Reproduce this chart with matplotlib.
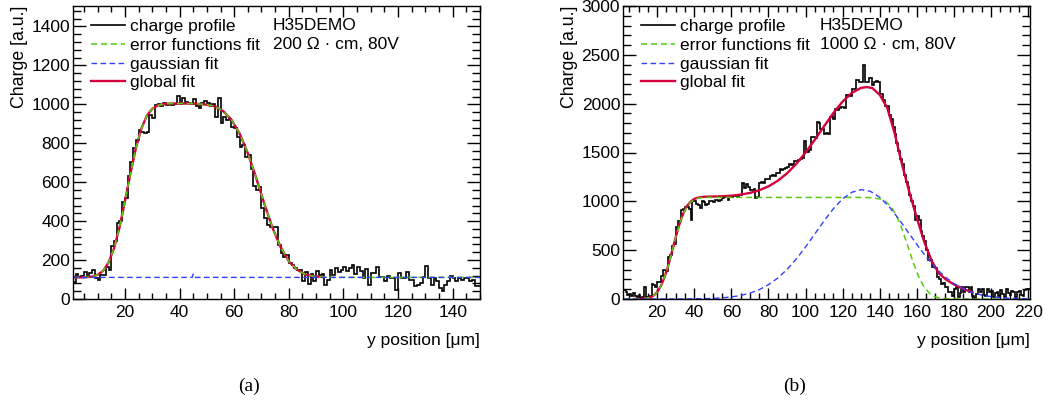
import numpy as np
import matplotlib
matplotlib.use('Agg')
import matplotlib.pyplot as plt
from matplotlib.ticker import MultipleLocator

plt.rcParams['font.family'] = ['Liberation Sans', 'DejaVu Sans']

# ---------------- panel (a): 200 Ohm cm ----------------
bin_start_a = 1   # 1 um bins
counts_a = [
    85, 130, 112, 118, 140, 115, 135, 150, 110, 100,
    125, 125, 165, 150, 270, 300, 390, 400, 500, 520,
    630, 706, 774, 816, 870, 860, 855, 860, 945, 930,
    995, 1000, 990, 1005, 995, 1000, 995, 1000, 1044, 1000,
    1034, 1010, 1005, 1000, 1027, 990, 980, 1005, 1015, 1005,
    990, 1000, 935, 1030, 902, 935, 920, 925, 885, 880,
    830, 782, 790, 730, 740, 670, 580, 560, 577, 467,
    415, 380, 370, 372, 372, 278, 236, 218, 227, 185,
    176, 159, 150, 150, 95, 140, 75, 130, 90, 145,
    125, 130, 70, 100, 150, 125, 160, 140, 150, 165,
    145, 160, 175, 130, 165, 145, 110, 154, 73, 133,
    133, 164, 113, 113, 90, 119, 107, 107, 48, 133,
    107, 107, 138, 99, 99, 65, 73, 80, 113, 167,
    107, 70, 110, 90, 56, 40, 73, 90, 116, 107,
    90, 107, 96, 107, 107, 90, 100, 65, 65,
]

erf_fit_a_x = [1, 5, 8, 10, 12, 14, 16, 18, 20, 22, 24, 26, 28, 30, 32, 35, 38,
               42, 46, 50, 53, 56, 59, 62, 65, 68, 71, 74, 77, 80, 83, 86, 89,
               92, 95, 100, 110, 120, 130, 140, 150]
erf_fit_a_y = [111, 111, 115, 124, 144, 187, 259, 366, 501, 643, 773, 874, 941,
               977, 994, 1003, 1004, 1004, 1003, 998, 990, 965, 921, 850, 749,
               625, 491, 367, 267, 194, 151, 126, 117, 113, 111, 111, 111, 111,
               111, 111, 111]

gaus_fit_a_x = [1, 44.6, 45.0, 45.6, 150]
gaus_fit_a_y = [111, 111, 128, 111, 111]

glob_fit_a_x = [1, 5, 8, 10, 12, 14, 16, 18, 20, 22, 24, 26, 28, 30, 32, 35, 38,
                42, 46, 50, 53, 56, 59, 62, 65, 68, 71, 74, 77, 80, 83, 86, 89, 92]
glob_fit_a_y = [111, 111, 115, 124, 144, 187, 259, 366, 501, 643, 773, 874, 941,
                977, 994, 1003, 1004, 1004, 1003, 998, 990, 965, 921, 850, 749,
                625, 491, 367, 267, 194, 151, 126, 117, 113]

# ---------------- panel (b): 1000 Ohm cm ----------------
bin_start_b = 2
counts_b = [
    90, 70, 40, 50, 35, 60, 35, 20, 40, 15,
    25, 125, 20, 15, 30, 150, 140, 120, 175, 175,
    240, 293, 300, 290, 431, 450, 540, 560, 742, 794,
    800, 915, 920, 942, 945, 920, 811, 1000, 1005, 976,
    960, 932, 1000, 990, 966, 970, 1000, 1005, 990, 1018,
    1010, 1005, 1018, 1030, 1052, 1040, 1010, 1052, 1045, 1050,
    1055, 1048, 1060, 1060, 1183, 1138, 1173, 1150, 1121, 1121,
    1130, 1035, 1040, 1190, 1200, 1190, 1225, 1230, 1225, 1259,
    1265, 1260, 1294, 1290, 1328, 1320, 1335, 1345, 1350, 1380,
    1375, 1385, 1415, 1410, 1420, 1432, 1440, 1621, 1518, 1510,
    1525, 1656, 1660, 1650, 1811, 1800, 1742, 1740, 1690, 1700,
    1690, 1863, 1870, 1845, 1949, 1940, 1960, 1966, 1970, 1960,
    2086, 2090, 2080, 2155, 2150, 2242, 2240, 2224, 2224, 2397,
    2224, 2224, 2259, 2260, 2190, 2224, 2230, 2224, 2104, 2104,
    2035, 1977, 1977, 1880, 1845, 1760, 1690, 1600, 1520, 1430,
    1380, 1270, 1200, 1150, 1060, 1000, 949, 811, 850, 811,
    700, 640, 590, 500, 396, 396, 327, 330, 320, 224,
    200, 155, 160, 121, 121, 69, 70, 35, 104, 121,
    17, 60, 121, 69, 121, 121, 69, 121, 35, 10,
    55, 104, 69, 104, 40, 35, 100, 70, 85, 20,
    60, 70, 35, 90, 50, 20, 100, 60, 40, 80,
    75, 25, 70, 85, 40, 30, 90, 100, 100,
]

erf_fit_b_x = [2, 10, 12, 14, 16, 18, 20, 22, 24, 26, 28, 30, 32, 34, 36, 38, 40,
               42, 44, 46, 50, 130, 135, 140, 143, 146, 149, 152, 155, 158, 161,
               164, 167, 170, 173, 176, 180, 221]
erf_fit_b_y = [0, 1, 2, 6, 14, 33, 70, 131, 222, 342, 483, 629, 761, 868, 944,
               991, 1018, 1031, 1037, 1039, 1040, 1040, 1038, 1025, 1000, 947,
               854, 717, 549, 376, 227, 119, 54, 21, 7, 2, 0, 0]

gaus_fit_b_x = [2, 35, 40, 45, 50, 55, 60, 65, 70, 75, 80, 85, 90, 95, 100, 105,
                110, 115, 120, 125, 130, 135, 140, 145, 150, 155, 160, 165, 170,
                175, 180, 185, 190, 195, 200, 205, 210, 215, 221]
gaus_fit_b_y = [0, 1, 2, 3, 6, 12, 21, 36, 60, 95, 146, 214, 302, 409, 532, 666,
                800, 924, 1026, 1093, 1120, 1102, 1042, 947, 826, 693, 558, 432,
                321, 230, 158, 104, 66, 40, 24, 13, 7, 4, 2]

glob_fit_b_x = [8, 10, 12, 14, 16, 18, 20, 22, 24, 26, 28, 30, 32, 34, 36, 38, 40,
                42, 44, 46, 50, 55, 60, 65, 70, 75, 80, 85, 90, 95, 100, 105, 110,
                115, 120, 125, 130, 133, 136, 140, 144, 148, 152, 156, 160, 164,
                168, 172, 176, 180, 184, 188, 190]
glob_fit_b_y = [0, 1, 2, 6, 14, 33, 70, 132, 223, 344, 485, 632, 765, 872, 949,
                996, 1025, 1037, 1044, 1047, 1049, 1052, 1058, 1069, 1086, 1113,
                1153, 1210, 1286, 1383, 1499, 1631, 1769, 1904, 2022, 2111, 2162,
                2170, 2160, 2090, 1960, 1700, 1380, 1090, 830, 585, 390, 260, 195,
                150, 112, 82, 70]

labels = ['charge profile', 'error functions fit', 'gaussian fit', 'global fit']

RED = '#d2003c'
GREEN = '#55cc11'
BLUE = '#3040ff'
FS = 12.5


def draw_panel(ax, start, counts, erf_x, erf_y, gaus_x, gaus_y, glob_x, glob_y):
    edges = np.arange(len(counts) + 1) + start
    h = ax.stairs(counts, edges, color='black', lw=1.2, baseline=None)
    r, = ax.plot(glob_x, glob_y, color=RED, lw=1.7)
    g, = ax.plot(erf_x, erf_y, color=GREEN, lw=1.1, dashes=(4, 2.5))
    b, = ax.plot(gaus_x, gaus_y, color=BLUE, lw=1.0, dashes=(4, 2.5))
    ax.legend([h, g, b, r], labels, loc='upper left', bbox_to_anchor=(0.044, 0.955),
              frameon=False, fontsize=FS, handlelength=1.95, handletextpad=0.33,
              labelspacing=0.2, borderaxespad=0.0, borderpad=0.0)
    ax.tick_params(which='both', direction='in', top=True, right=True,
                   labelsize=FS, width=1.0)
    ax.tick_params(axis='y', which='major', length=9.5, pad=2)
    ax.tick_params(axis='y', which='minor', length=6)
    ax.tick_params(axis='x', which='major', length=8, pad=4)
    ax.tick_params(axis='x', which='minor', length=4.5)
    for s in ax.spines.values():
        s.set_linewidth(1.0)
    ax.set_ylabel('Charge [a.u.]', fontsize=12.8, loc='top')
    ax.yaxis.set_label_coords(-0.110, 1.0)
    ax.set_xlabel('y position [μm]', fontsize=FS, loc='right')
    ax.xaxis.set_label_coords(1.0, -0.115)


fig = plt.figure(figsize=(10.51, 4.03), dpi=100)
ax_a = fig.add_axes([73 / 1051, 1 - 299 / 403, 407 / 1051, 293 / 403])
ax_b = fig.add_axes([623 / 1051, 1 - 299 / 403, 407 / 1051, 293 / 403])

draw_panel(ax_a, bin_start_a, counts_a, erf_fit_a_x, erf_fit_a_y,
           gaus_fit_a_x, gaus_fit_a_y, glob_fit_a_x, glob_fit_a_y)
ax_a.set_xlim(1, 150)
ax_a.set_ylim(0, 1505)
ax_a.xaxis.set_major_locator(MultipleLocator(20))
ax_a.xaxis.set_minor_locator(MultipleLocator(5))
ax_a.yaxis.set_major_locator(MultipleLocator(200))
ax_a.yaxis.set_minor_locator(MultipleLocator(40))
ax_a.text(0.491, 0.932, 'H35DEMO', transform=ax_a.transAxes, fontsize=FS, va='center')
ax_a.text(0.491, 0.867, '200 Ω · cm, 80V', transform=ax_a.transAxes, fontsize=FS, va='center')

draw_panel(ax_b, bin_start_b, counts_b, erf_fit_b_x, erf_fit_b_y,
           gaus_fit_b_x, gaus_fit_b_y, glob_fit_b_x, glob_fit_b_y)
ax_b.set_xlim(1.6, 221)
ax_b.set_ylim(0, 3000)
ax_b.xaxis.set_major_locator(MultipleLocator(20))
ax_b.xaxis.set_minor_locator(MultipleLocator(5))
ax_b.yaxis.set_major_locator(MultipleLocator(500))
ax_b.yaxis.set_minor_locator(MultipleLocator(100))
ax_b.text(0.484, 0.932, 'H35DEMO', transform=ax_b.transAxes, fontsize=FS, va='center')
ax_b.text(0.484, 0.867, '1000 Ω · cm, 80V', transform=ax_b.transAxes, fontsize=FS, va='center')

fig.text(249 / 1051, 1 - 386 / 403, '(a)', ha='center', va='center',
         family='Liberation Serif', fontsize=14)
fig.text(795 / 1051, 1 - 386 / 403, '(b)', ha='center', va='center',
         family='Liberation Serif', fontsize=14)

fig.savefig('out.png', dpi=100)
